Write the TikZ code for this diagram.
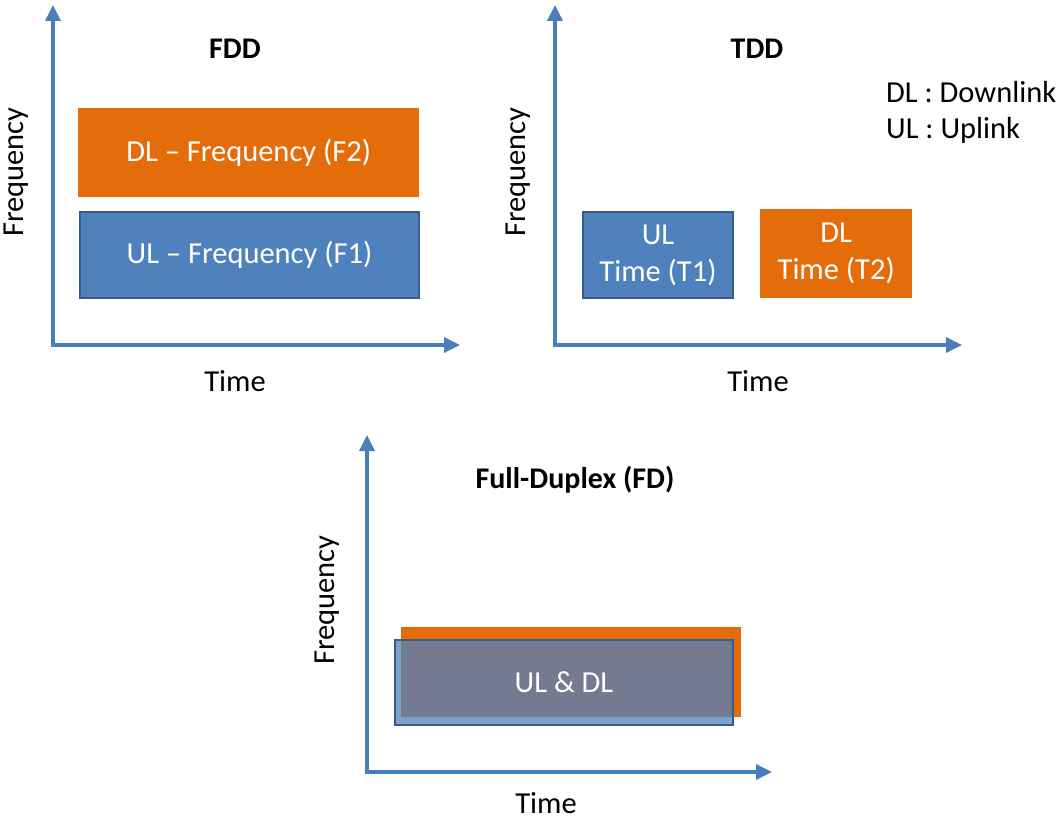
\documentclass[tikz,border=0pt]{standalone}
\usepackage{fontspec}
\setmainfont{Carlito}
\usetikzlibrary{arrows.meta}
\definecolor{axisblue}{HTML}{4A7EBB}
\definecolor{ulblue}{HTML}{4F81BD}
\definecolor{ulborder}{HTML}{385D8A}
\definecolor{dlorange}{HTML}{E46C0A}
\tikzset{
  axis/.style={axisblue,line width=3.5pt,{Triangle[length=16pt,width=15pt]}-{Triangle[length=16pt,width=15pt]}},
  txt/.style={font=\fontsize{30.5}{37}\selectfont,inner sep=0pt},
  ttl/.style={font=\bfseries\fontsize{30}{37}\selectfont,inner sep=0pt},
  ulbox/.style={txt,anchor=north west,fill=ulblue,draw=ulborder,line width=2pt,text=white,align=center},
  dlbox/.style={txt,anchor=north west,fill=dlorange,text=white,align=center},
}
\begin{document}
\begin{tikzpicture}[x=1pt,y=-1pt]
\useasboundingbox (0,0) rectangle (1062,821);
% FDD
\coordinate (fddy) at (53,5);
\coordinate (fddo) at (53,345);
\coordinate (fddx) at (460,345);
\draw[axis] (fddy) -- (fddo) -- (fddx);
\node[ttl] (fddtitle) at (235,49) {FDD};
\node[txt,rotate=90] (fddfreq) at (16,172) {Frequency};
\node[txt] (fddtime) at (235,381) {Time};
\node[dlbox,minimum width=341pt,minimum height=89pt] (fdddl) at (78,108) {DL -- Frequency (F2)};
\node[ulbox,minimum width=339pt,minimum height=86pt] (fddul) at (79,211) {UL -- Frequency (F1)};
% TDD
\coordinate (tddy) at (555,5);
\coordinate (tddo) at (555,345);
\coordinate (tddx) at (962,345);
\draw[axis] (tddy) -- (tddo) -- (tddx);
\node[ttl] (tddtitle) at (757,49) {TDD};
\node[txt,rotate=90] (tddfreq) at (518,172) {Frequency};
\node[txt] (tddtime) at (758,381) {Time};
\node[ulbox,minimum width=150pt,minimum height=86pt] (tddul) at (582,211) {UL\\Time (T1)};
\node[dlbox,minimum width=152pt,minimum height=89pt] (tdddl) at (760,209) {DL\\Time (T2)};
\node[txt,anchor=west] (legdl) at (886,92) {DL : Downlink};
\node[txt,anchor=west] (legul) at (886,130) {UL : Uplink};
% Full-Duplex
\coordinate (fdy) at (367,435);
\coordinate (fdo) at (367,772);
\coordinate (fdx) at (772,772);
\draw[axis] (fdy) -- (fdo) -- (fdx);
\node[ttl] (fdtitle) at (575,480) {Full-Duplex (FD)};
\node[txt,rotate=90] (fdfreq) at (327,600) {Frequency};
\node[txt] (fdtime) at (546,803) {Time};
\node[dlbox,minimum width=340pt,minimum height=90pt] (fddl) at (401,627) {};
\node[ulbox,fill opacity=0.75,text opacity=1,minimum width=338pt,minimum height=85pt] (fdul) at (394,639) {UL \& DL};
\end{tikzpicture}
\end{document}
